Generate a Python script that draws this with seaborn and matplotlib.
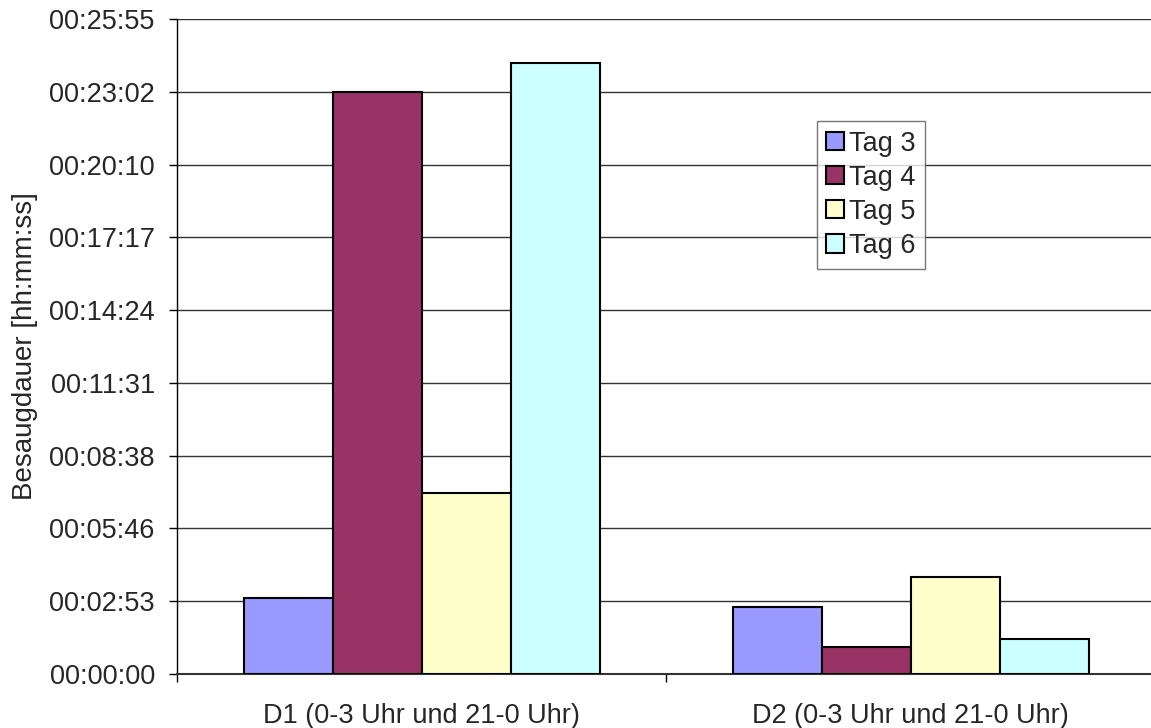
import matplotlib
matplotlib.use("Agg")
import matplotlib.pyplot as plt
import matplotlib.ticker as mticker
import numpy as np
import pandas as pd
import seaborn as sns

# Viewing duration per time slot and day, in seconds
categories = ["D1 (0-3 Uhr und 21-0 Uhr)", "D2 (0-3 Uhr und 21-0 Uhr)"]
days = ["Tag 3", "Tag 4", "Tag 5", "Tag 6"]
tag3 = [181, 160]
tag4 = [1383, 63]
tag5 = [430, 231]
tag6 = [1451, 82]
colors = ["#9999FF", "#993366", "#FFFFCC", "#CCFFFF"]

rows = []
for day, vals in zip(days, [tag3, tag4, tag5, tag6]):
    for cat, v in zip(categories, vals):
        rows.append({"Kategorie": cat, "Tag": day, "Sekunden": v})
df = pd.DataFrame(rows)

sns.set_style("white")
plt.rcParams["font.family"] = ["Liberation Sans", "DejaVu Sans"]

fig = plt.figure(figsize=(11.51, 7.28), dpi=100)
ax = fig.add_axes([0.1538, 0.0742, 0.8497, 0.8997])

sns.barplot(data=df, x="Kategorie", y="Sekunden", hue="Tag", order=categories,
            hue_order=days, palette=colors, width=0.728, edgecolor="black",
            linewidth=1.5, saturation=1, ax=ax, zorder=3)

# y axis: steps of 0.002 day, labelled hh:mm:ss
step = 172.8
ax.set_ylim(0, 9 * step)
ax.set_yticks(np.arange(10) * step)

def hms(v, pos=None):
    s = int(round(v))
    return f"{s // 3600:02d}:{(s % 3600) // 60:02d}:{s % 60:02d}"

ax.yaxis.set_major_formatter(mticker.FuncFormatter(hms))
ax.grid(axis="y", color="#333333", linewidth=1.0, zorder=0)
ax.set_axisbelow(True)

ax.set_xlim(-0.5, 1.5)
ax.set_xticks([0, 1])
ax.set_xticklabels(categories)
ax.set_xticks([-0.5, 0.5, 1.5], minor=True)
ax.tick_params(axis="x", which="major", length=0, pad=21, labelsize=19.5)
ax.tick_params(axis="x", which="minor", length=6, width=1, color="black",
               direction="out", bottom=True)
ax.tick_params(axis="y", which="major", length=6, width=1, color="black",
               direction="out", left=True, pad=10, labelsize=19.5)

for side in ["top", "right"]:
    ax.spines[side].set_visible(False)
ax.spines["left"].set_color("black")
ax.spines["left"].set_linewidth(1.0)
ax.spines["bottom"].set_color("#333333")
ax.spines["bottom"].set_linewidth(1.5)

ax.set_xlabel("")
ax.set_ylabel("Besaugdauer [hh:mm:ss]", fontsize=20, labelpad=8)

leg = ax.legend(loc="upper left", bbox_to_anchor=(0.654, 0.844), borderaxespad=0,
                fontsize=19.5, frameon=True, fancybox=False, edgecolor="#555555",
                handlelength=0.65, handleheight=0.65, handletextpad=0.2,
                labelspacing=0.3, borderpad=0.35, title=None)
leg.get_frame().set_linewidth(1.0)
for h in leg.legend_handles:
    h.set_edgecolor("black")
    h.set_linewidth(1.5)

fig.savefig("out.png", dpi=100)
